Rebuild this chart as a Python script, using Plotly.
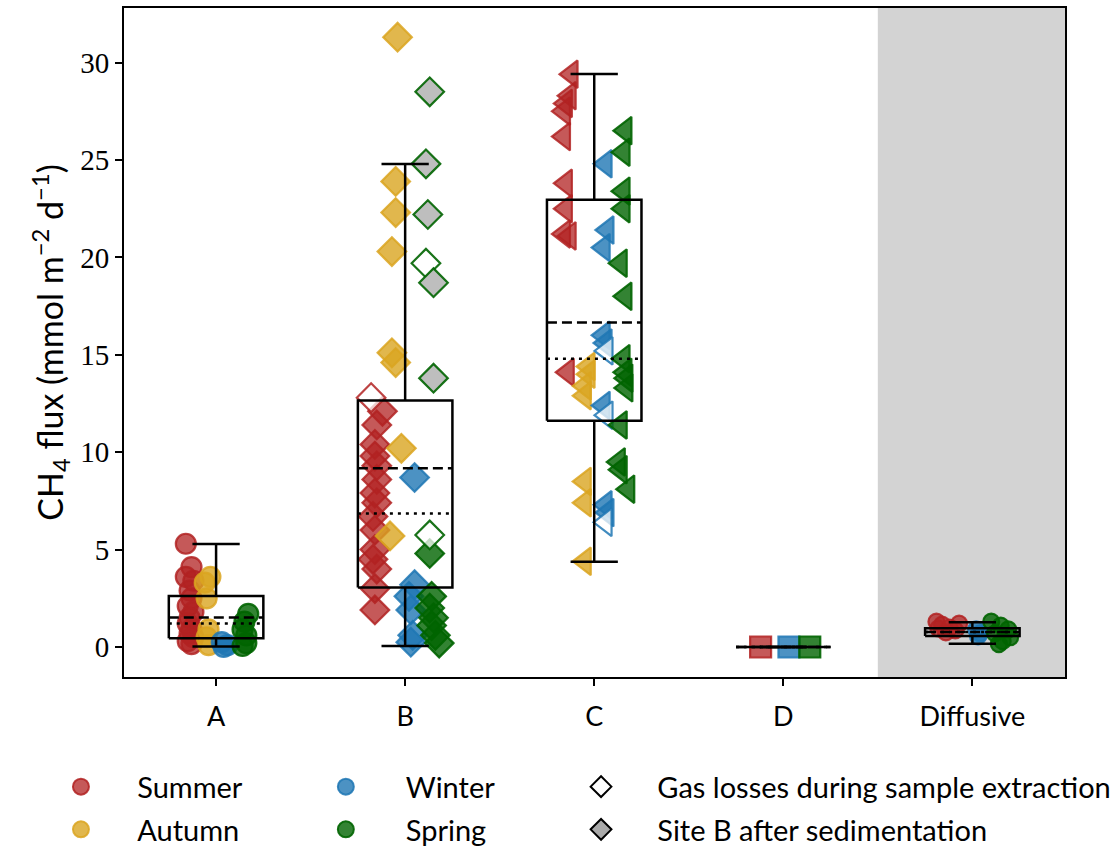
import plotly.graph_objects as go

# ---------------- data ----------------
categories = ["A", "B", "C", "D", "Diffusive"]
seasons = ["Summer", "Autumn", "Winter", "Spring"]

# Site A (circles)
A_summer = [5.3, 4.1, 3.6, 3.4, 2.9, 2.5, 2.1, 1.8, 1.5, 1.2, 0.9, 0.7, 0.5, 0.3, 0.15]
A_summer_jit = [-0.16, -0.13, -0.16, -0.12, -0.14, -0.13, -0.15, -0.12, -0.14, -0.15, -0.13, -0.14, -0.12, -0.15, -0.13]
A_autumn = [3.6, 3.3, 2.5, 0.9, 0.5, 0.1]
A_autumn_jit = [-0.03, -0.06, -0.05, -0.04, -0.05, -0.04]
A_winter = [0.25, 0.1, 0.0]
A_winter_jit = [0.03, 0.06, 0.04]
A_spring = [1.7, 1.3, 0.9, 0.6, 0.2, 0.05]
A_spring_jit = [0.17, 0.15, 0.14, 0.16, 0.16, 0.14]

# Site B (diamonds)
B_summer = [12.1, 11.4, 10.4, 9.8, 9.3, 8.6, 7.9, 7.4, 6.7, 6.0, 5.0, 4.5, 4.0, 3.0, 1.9]
B_summer_jit = [-0.12, -0.15, -0.16, -0.16, -0.15, -0.15, -0.16, -0.15, -0.17, -0.16, -0.16, -0.17, -0.15, -0.16, -0.16]
B_autumn = [31.3, 23.9, 22.3, 20.3, 15.1, 14.6, 10.2, 5.7]
B_autumn_jit = [-0.04, -0.05, -0.05, -0.07, -0.07, -0.05, -0.02, -0.08]
B_winter = [8.7, 3.2, 2.6, 1.9, 0.6, 0.25]
B_winter_jit = [0.05, 0.05, 0.02, 0.03, 0.04, 0.03]
B_spring = [4.8, 2.6, 2.0, 1.5, 1.1, 0.6, 0.2]
B_spring_jit = [0.13, 0.14, 0.13, 0.15, 0.14, 0.16, 0.18]
B_summer_gasloss = [12.8]
B_summer_gasloss_jit = [-0.18]
B_spring_gasloss = [19.7, 5.75]
B_spring_gasloss_jit = [0.11, 0.13]
B_spring_sediment = [28.5, 24.8, 22.2, 18.7, 13.8]
B_spring_sediment_jit = [0.13, 0.11, 0.12, 0.15, 0.15]

# Site C (left triangles)
C_summer = [29.4, 28.3, 27.9, 27.5, 26.2, 23.8, 22.5, 21.2, 21.1, 14.1]
C_summer_jit = [-0.12, -0.13, -0.15, -0.16, -0.16, -0.15, -0.15, -0.16, -0.13, -0.14]
C_autumn = [14.4, 14.0, 13.4, 12.9, 8.5, 7.4, 4.4]
C_autumn_jit = [-0.03, -0.03, -0.05, -0.05, -0.05, -0.05, -0.05]
C_winter = [24.8, 21.4, 20.5, 16.0, 15.6, 12.4, 7.3, 6.9]
C_winter_jit = [0.06, 0.07, 0.05, 0.05, 0.06, 0.05, 0.06, 0.07]
C_spring = [26.5, 25.4, 23.4, 22.5, 19.7, 18.0, 14.8, 14.1, 13.8, 13.3, 11.4, 9.5, 9.1, 8.1]
C_spring_jit = [0.165, 0.155, 0.155, 0.155, 0.14, 0.165, 0.155, 0.165, 0.17, 0.17, 0.14, 0.13, 0.14, 0.18]
C_winter_gasloss = [15.2, 11.9, 6.4]
C_winter_gasloss_jit = [0.065, 0.065, 0.06]

# Site D (squares)
D_summer = [0.0]
D_summer_jit = [-0.12]
D_winter = [0.0]
D_winter_jit = [0.03]
D_spring = [0.0]
D_spring_jit = [0.14]

# Diffusive flux
F_summer = [1.3, 1.15, 1.0, 0.95, 0.85, 1.2, 0.75]
F_summer_jit = [-0.19, -0.16, -0.12, -0.18, -0.09, -0.07, -0.14]
F_winter = [0.9, 0.7, 0.55]
F_winter_jit = [0.02, 0.04, 0.03]
F_spring = [1.3, 1.1, 0.9, 0.7, 0.5, 0.3, 0.15]
F_spring_jit = [0.1, 0.15, 0.19, 0.12, 0.2, 0.16, 0.14]

# box statistics (A, B, C, D, Diffusive)
whis_lo = [0.02, 0.05, 4.38, 0.0, 0.17]
q1 = [0.45, 3.05, 11.61, 0.0, 0.56]
median = [1.20, 6.85, 14.79, 0.0, 0.77]
mean = [1.52, 9.18, 16.66, 0.0, 0.77]
q3 = [2.62, 12.65, 22.96, 0.0, 0.96]
whis_hi = [5.29, 24.79, 29.41, 0.0, 1.27]

y_ticks = [0, 5, 10, 15, 20, 25, 30]

# ---------------- style ----------------
fill = {"Summer": "rgba(178,34,34,0.75)", "Autumn": "rgba(218,165,32,0.8)",
        "Winter": "rgba(31,119,180,0.8)", "Spring": "rgba(0,100,0,0.8)"}
edge = {"Summer": "rgba(178,34,34,0.85)", "Autumn": "rgba(218,165,32,0.85)",
        "Winter": "rgba(31,119,180,0.85)", "Spring": "rgba(0,100,0,0.9)"}
X_RANGE = [-0.487, 4.49]
Y_RANGE = [-1.54, 32.8]
SANS = "Lato, 'Open Sans', sans-serif"
SERIF = "'Liberation Serif', 'DejaVu Serif', serif"

fig = go.Figure()

def add_points(cat_idx, values, jit, season, symbol, size, kind="normal"):
    xs = [cat_idx + j for j in jit]
    if kind == "normal":
        fc, lc = fill[season], edge[season]
    elif kind == "gasloss":
        fc, lc = "rgba(255,255,255,0.75)", edge[season]
    else:
        fc, lc = "rgba(190,190,190,1)", edge[season]
    fig.add_trace(go.Scatter(
        x=xs, y=values, mode="markers", showlegend=False, hoverinfo="skip",
        marker=dict(symbol=symbol, size=size, color=fc, line=dict(color=lc, width=2.2)),
    ))

# A
add_points(0, A_summer, A_summer_jit, "Summer", "circle", 20)
add_points(0, A_autumn, A_autumn_jit, "Autumn", "circle", 20)
add_points(0, A_winter, A_winter_jit, "Winter", "circle", 20)
add_points(0, A_spring, A_spring_jit, "Spring", "circle", 20)
# B
add_points(1, B_summer, B_summer_jit, "Summer", "diamond", 22)
add_points(1, B_summer_gasloss, B_summer_gasloss_jit, "Summer", "diamond", 22, "gasloss")
add_points(1, B_autumn, B_autumn_jit, "Autumn", "diamond", 22)
add_points(1, B_winter, B_winter_jit, "Winter", "diamond", 22)
add_points(1, B_spring, B_spring_jit, "Spring", "diamond", 22)
add_points(1, B_spring_gasloss, B_spring_gasloss_jit, "Spring", "diamond", 22, "gasloss")
add_points(1, B_spring_sediment, B_spring_sediment_jit, "Spring", "diamond", 22, "sediment")
# C
add_points(2, C_summer, C_summer_jit, "Summer", "triangle-left", 24)
add_points(2, C_autumn, C_autumn_jit, "Autumn", "triangle-left", 24)
add_points(2, C_winter, C_winter_jit, "Winter", "triangle-left", 24)
add_points(2, C_winter_gasloss, C_winter_gasloss_jit, "Winter", "triangle-left", 24, "gasloss")
add_points(2, C_spring, C_spring_jit, "Spring", "triangle-left", 24)
# D
add_points(3, D_summer, D_summer_jit, "Summer", "square", 21)
add_points(3, D_winter, D_winter_jit, "Winter", "square", 21)
add_points(3, D_spring, D_spring_jit, "Spring", "square", 21)
# Diffusive
add_points(4, F_summer, F_summer_jit, "Summer", "circle", 16)
add_points(4, F_winter, F_winter_jit, "Winter", "circle", 16)
add_points(4, F_spring, F_spring_jit, "Spring", "circle", 16)

# ---------------- boxes ----------------
BOX_HALF = 0.25
CAP_HALF = 0.125
bx, by = [], []
for i in range(len(categories)):
    bx += [i - BOX_HALF, i + BOX_HALF, i + BOX_HALF, i - BOX_HALF, i - BOX_HALF, None]
    by += [q1[i], q1[i], q3[i], q3[i], q1[i], None]
    bx += [i, i, None, i, i, None]
    by += [q1[i], whis_lo[i], None, q3[i], whis_hi[i], None]
    bx += [i - CAP_HALF, i + CAP_HALF, None, i - CAP_HALF, i + CAP_HALF, None]
    by += [whis_lo[i], whis_lo[i], None, whis_hi[i], whis_hi[i], None]
fig.add_trace(go.Scatter(x=bx, y=by, mode="lines", showlegend=False, hoverinfo="skip",
                         line=dict(color="black", width=2.5)))
mx, my, dx_, dy_ = [], [], [], []
for i in range(len(categories)):
    mx += [i - BOX_HALF, i + BOX_HALF, None]
    my += [mean[i], mean[i], None]
    dx_ += [i - BOX_HALF, i + BOX_HALF, None]
    dy_ += [median[i], median[i], None]
fig.add_trace(go.Scatter(x=mx, y=my, mode="lines", showlegend=False, hoverinfo="skip",
                         line=dict(color="black", width=2.5, dash="10px,5px")))
fig.add_trace(go.Scatter(x=dx_, y=dy_, mode="lines", showlegend=False, hoverinfo="skip",
                         line=dict(color="black", width=2.5, dash="3px,5px")))

# ---------------- legend ----------------
SP = "\u2003\u2002"
legend_entries = [
    ("Summer", "legend", "circle", fill["Summer"], edge["Summer"], SP),
    ("Autumn", "legend", "circle", fill["Autumn"], edge["Autumn"], SP),
    ("Winter", "legend2", "circle", fill["Winter"], edge["Winter"], SP + "\u2009"),
    ("Spring", "legend2", "circle", fill["Spring"], edge["Spring"], SP + "\u2009"),
    ("Gas losses during sample extraction", "legend3", "diamond", "white", "black", SP),
    ("Site B after sedimentation", "legend3", "diamond", "rgb(170,170,170)", "black", SP),
]
for name, lg, sym, fc, lc, pre in legend_entries:
    fig.add_trace(go.Scatter(
        x=[None], y=[None], mode="markers", name=pre + name, legend=lg, legendgroup=name,
        marker=dict(symbol=sym, size=16, color=fc, line=dict(color=lc, width=2)),
    ))

leg_common = dict(yanchor="top", xanchor="left", orientation="v",
                  font=dict(family=SANS, size=29, color="black"),
                  bgcolor="rgba(0,0,0,0)", tracegroupgap=2, itemsizing="trace")
fig.update_layout(
    legend=dict(x=-0.067, y=-0.126, **leg_common),
    legend2=dict(x=0.2145, y=-0.126, **leg_common),
    legend3=dict(x=0.4857, y=-0.126, **leg_common),
)

# grey region for diffusive flux
fig.add_shape(type="rect", xref="x", yref="paper", x0=3.5, x1=X_RANGE[1], y0=0, y1=1,
              fillcolor="lightgray", line=dict(width=0), layer="below")

fig.update_layout(
    width=1120, height=850,
    margin=dict(l=124, r=55, t=8, b=173, autoexpand=False),
    plot_bgcolor="white", paper_bgcolor="white",
    showlegend=True,
    xaxis=dict(range=X_RANGE, tickvals=list(range(len(categories))), ticktext=categories,
               showgrid=False, zeroline=False, showline=True, linecolor="black", linewidth=2,
               mirror=True, ticks="outside", ticklen=7, tickwidth=1.5, tickcolor="black",
               ticklabelstandoff=8,
               tickfont=dict(family=SANS, size=27, color="black")),
    yaxis=dict(range=Y_RANGE, tickvals=y_ticks, ticktext=[str(t) for t in y_ticks],
               showgrid=False, zeroline=False, showline=True, linecolor="black", linewidth=2,
               mirror=True, ticks="outside", ticklen=7, tickwidth=1.5, tickcolor="black",
               tickfont=dict(family=SERIF, size=29, color="black"),
               title=dict(text="CH<sub>4</sub> flux (mmol m<sup>\u22122</sup> d<sup>\u22121</sup>)",
                          font=dict(family=SANS, size=34, color="black"), standoff=6)),
)

fig.write_html("out.html")
